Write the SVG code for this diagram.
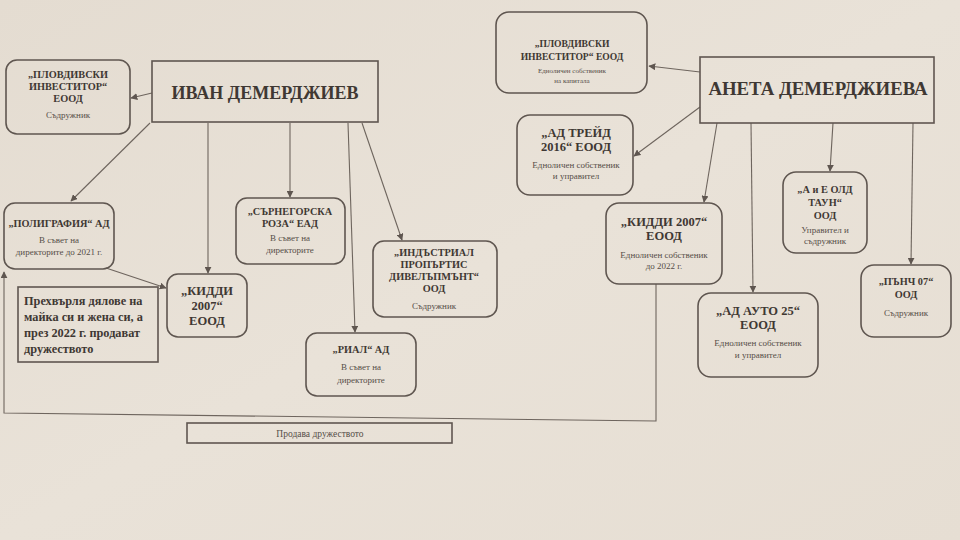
<svg xmlns="http://www.w3.org/2000/svg" width="960" height="540" viewBox="0 0 960 540">
<defs>
<marker id="ah" viewBox="0 0 10 10" refX="9" refY="5" markerWidth="7" markerHeight="7" markerUnits="userSpaceOnUse" orient="auto">
<path d="M0,0 L10,5 L0,10 z" fill="#5f5650"/>
</marker>
<linearGradient id="bg" x1="0" y1="0" x2="1" y2="1">
<stop offset="0" stop-color="#e4dcd1"/>
<stop offset="0.5" stop-color="#e9e2d8"/>
<stop offset="1" stop-color="#e6ded3"/>
</linearGradient>
</defs>
<style>
.box{fill:none;stroke:#5f5650;stroke-width:1.6}
.sq{fill:none;stroke:#5f5650;stroke-width:1.6}
.ln{fill:none;stroke:#6e655e;stroke-width:1.1}
text{font-family:"Liberation Serif","DejaVu Serif",serif;text-anchor:middle;fill:#3f3833}
.b{font-weight:bold;font-size:10.3px}
.bl{font-weight:bold;font-size:12.5px}
.s{font-size:9px;fill:#564e48}
.xs{font-size:7px;fill:#564e48}
.t{font-weight:bold;font-size:18px}
.t2{font-weight:bold;font-size:18.8px}
.nt{font-weight:bold;font-size:12.3px;text-anchor:start}
</style>
<rect width="960" height="540" fill="url(#bg)"/>

<g id="connectors">
<line class="ln" x1="152" y1="93" x2="131" y2="98" marker-end="url(#ah)"/>
<line class="ln" x1="150" y1="123" x2="71" y2="201" marker-end="url(#ah)"/>
<line class="ln" x1="208" y1="123" x2="208" y2="273" marker-end="url(#ah)"/>
<line class="ln" x1="290" y1="123" x2="290" y2="197" marker-end="url(#ah)"/>
<line class="ln" x1="348" y1="123" x2="355" y2="332" marker-end="url(#ah)"/>
<line class="ln" x1="362" y1="123" x2="402" y2="240" marker-end="url(#ah)"/>
<line class="ln" x1="106" y1="268" x2="166" y2="288" marker-end="url(#ah)"/>
<polyline class="ln" points="656,284 656,421 4,413 4,272" marker-end="url(#ah)"/>
<line class="ln" x1="700" y1="72" x2="649" y2="66" marker-end="url(#ah)"/>
<line class="ln" x1="700" y1="107" x2="634" y2="156" marker-end="url(#ah)"/>
<line class="ln" x1="717" y1="123" x2="704" y2="202" marker-end="url(#ah)"/>
<line class="ln" x1="751" y1="123" x2="753" y2="292" marker-end="url(#ah)"/>
<line class="ln" x1="833" y1="123" x2="830" y2="171" marker-end="url(#ah)"/>
<line class="ln" x1="913" y1="123" x2="911" y2="264" marker-end="url(#ah)"/>
</g>

<g id="ivan">
<rect class="sq" x="152" y="61" width="226" height="61"/>
<text class="t" x="265" y="99">ИВАН ДЕМЕРДЖИЕВ</text>
</g>

<g id="plovdivski-left">
<rect class="box" x="6" y="60" width="124" height="74" rx="11"/>
<text class="b" x="68" y="78">„ПЛОВДИВСКИ</text>
<text class="b" x="68" y="90">ИНВЕСТИТОР“</text>
<text class="b" x="68" y="102">ЕООД</text>
<text class="s" x="68" y="118">Съдружник</text>
</g>

<g id="poligrafia">
<rect class="box" x="4" y="203" width="110" height="66" rx="11"/>
<text class="b" x="59" y="227">„ПОЛИГРАФИЯ“ АД</text>
<text class="s" x="59" y="243">В съвет на</text>
<text class="s" x="59" y="255">директорите до 2021 г.</text>
</g>

<g id="kiddi-left">
<rect class="box" x="167" y="274" width="80" height="63" rx="11"/>
<text class="bl" x="207" y="295">„КИДДИ</text>
<text class="bl" x="207" y="310">2007“</text>
<text class="bl" x="207" y="325">ЕООД</text>
</g>

<g id="note">
<rect class="sq" x="18" y="287" width="140" height="75"/>
<text class="nt" x="24" y="305">Прехвърля дялове на</text>
<text class="nt" x="24" y="321">майка си и жена си, а</text>
<text class="nt" x="24" y="337">през 2022 г. продават</text>
<text class="nt" x="24" y="353">дружеството</text>
</g>

<g id="sarnegorska">
<rect class="box" x="236" y="198" width="109" height="66" rx="11"/>
<text class="b" x="290" y="215">„СЪРНЕГОРСКА</text>
<text class="b" x="290" y="227">РОЗА“ ЕАД</text>
<text class="s" x="290" y="241">В съвет на</text>
<text class="s" x="290" y="253">директорите</text>
</g>

<g id="industrial">
<rect class="box" x="373" y="241" width="124" height="76" rx="11"/>
<text class="b" x="434" y="256">„ИНДЪСТРИАЛ</text>
<text class="b" x="434" y="268">ПРОПЪРТИС</text>
<text class="b" x="434" y="280">ДИВЕЛЪПМЪНТ“</text>
<text class="b" x="434" y="292">ООД</text>
<text class="s" x="434" y="309">Съдружник</text>
</g>

<g id="rial">
<rect class="box" x="306" y="333" width="110" height="63" rx="11"/>
<text class="b" x="361" y="353">„РИАЛ“ АД</text>
<text class="s" x="361" y="370">В съвет на</text>
<text class="s" x="361" y="383">директорите</text>
</g>

<g id="prodava">
<rect class="sq" x="187" y="423" width="265" height="20" stroke-width="1.3"/>
<text class="s" x="320" y="437" style="font-size:9.5px">Продава дружеството</text>
</g>

<g id="aneta">
<rect class="sq" x="700" y="57" width="234" height="66"/>
<text class="t2" x="818" y="95">АНЕТА ДЕМЕРДЖИЕВА</text>
</g>

<g id="plovdivski-right">
<rect class="box" x="496" y="12" width="151" height="81" rx="13"/>
<text class="b" x="572" y="47" style="font-size:9.6px">„ПЛОВДИВСКИ</text>
<text class="b" x="572" y="60" style="font-size:9.6px">ИНВЕСТИТОР“ ЕООД</text>
<text class="xs" x="572" y="73">Едноличен собственик</text>
<text class="xs" x="572" y="83">на капитала</text>
</g>

<g id="ad-treid">
<rect class="box" x="517" y="115" width="116" height="80" rx="13"/>
<text class="bl" x="576" y="137">„АД ТРЕЙД</text>
<text class="bl" x="576" y="151">2016“ ЕООД</text>
<text class="s" x="576" y="168">Едноличен собственик</text>
<text class="s" x="576" y="179">и управител</text>
</g>

<g id="kiddi-right">
<rect class="box" x="606" y="203" width="116" height="81" rx="13"/>
<text class="bl" x="664" y="226">„КИДДИ 2007“</text>
<text class="bl" x="664" y="240">ЕООД</text>
<text class="s" x="664" y="258">Едноличен собственик</text>
<text class="s" x="664" y="269">до 2022 г.</text>
</g>

<g id="ad-auto">
<rect class="box" x="698" y="293" width="120" height="84" rx="13"/>
<text class="bl" x="758" y="315">„АД АУТО 25“</text>
<text class="bl" x="758" y="329">ЕООД</text>
<text class="s" x="758" y="346">Едноличен собственик</text>
<text class="s" x="758" y="358">и управител</text>
</g>

<g id="old-taun">
<rect class="box" x="783" y="172" width="84" height="81" rx="13"/>
<text class="b" x="825" y="193">„А и Е ОЛД</text>
<text class="b" x="825" y="206">ТАУН“</text>
<text class="b" x="825" y="219">ООД</text>
<text class="s" x="825" y="233">Управител и</text>
<text class="s" x="825" y="244">съдружник</text>
</g>

<g id="panch">
<rect class="box" x="861" y="265" width="90" height="72" rx="13"/>
<text class="b" x="906" y="285">„ПЪНЧ 07“</text>
<text class="b" x="906" y="298">ООД</text>
<text class="s" x="906" y="316">Съдружник</text>
</g>
</svg>
